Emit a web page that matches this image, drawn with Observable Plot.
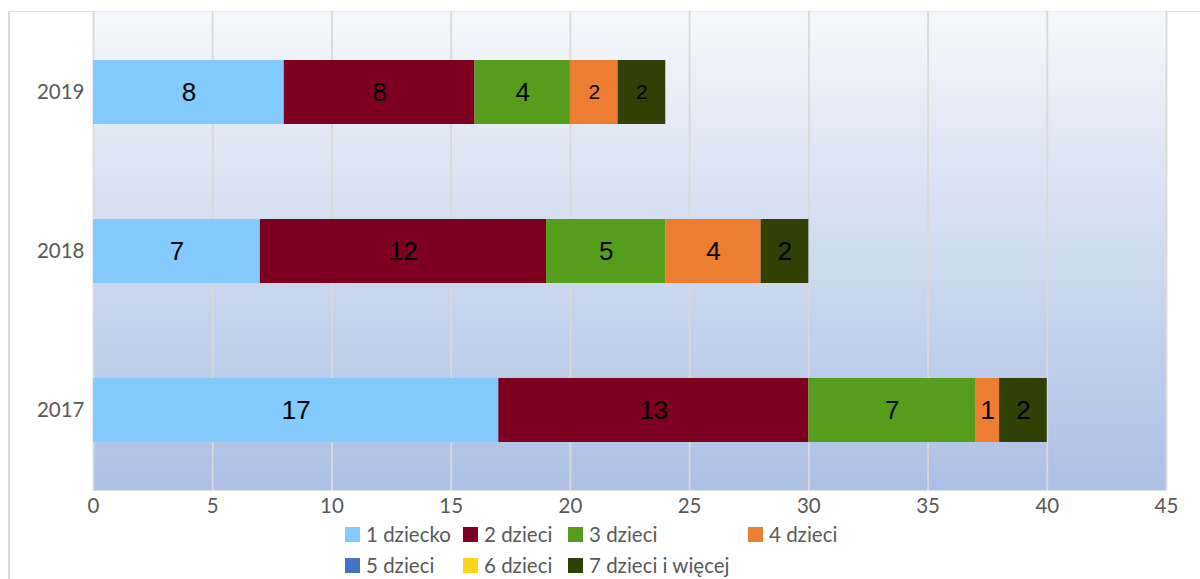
<!DOCTYPE html>
<html>
<head>
<meta charset="utf-8">
<script src="https://cdn.jsdelivr.net/npm/d3@7"></script>
<script src="https://cdn.jsdelivr.net/npm/@observablehq/plot@0.6"></script>
<style>
  body { margin: 0; background: #fff; }
  #wrap { position: relative; width: 1200px; height: 579px; overflow: hidden; font-family: Lato, "Noto Sans", sans-serif; }
  #border { position: absolute; left: 8px; top: 11px; width: 1300px; height: 700px; border-left: 2px solid #d9d9d9; border-top: 1.5px solid #e0e0e0; box-sizing: border-box; }
  #chart { position: absolute; left: 0; top: 0; }
  .lg { position: absolute; display: flex; align-items: center; font-size: 20.5px; color: #595959; white-space: nowrap; }
  .sw { width: 15px; height: 15px; margin-right: 6px; display: inline-block; }
</style>
</head>
<body>
<div id="wrap">
  <div id="border"></div>
  <div id="chart"></div>
  <div id="legend"></div>
</div>
<script>
const years = ["2019", "2018", "2017"];
const categories = ["1 dziecko", "2 dzieci", "3 dzieci", "4 dzieci", "5 dzieci", "6 dzieci", "7 dzieci i więcej"];
const colors = ["#83CAFF", "#7E0021", "#579D1C", "#ED7D31", "#4472C4", "#FFD320", "#314004"];
const values2019 = [8, 8, 4, 2, 0, 0, 2];
const values2018 = [7, 12, 5, 4, 0, 0, 2];
const values2017 = [17, 13, 7, 1, 0, 0, 2];
const xTicks = [0, 5, 10, 15, 20, 25, 30, 35, 40, 45];

const series = {"2019": values2019, "2018": values2018, "2017": values2017};
const data = [];
for (const y of years) {
  categories.forEach((c, i) => data.push({year: y, category: c, value: series[y][i]}));
}
const labeled = data.filter(d => d.value > 0);

const plot = Plot.plot({
  width: 1200,
  height: 520,
  marginLeft: 93,
  marginRight: 34,
  marginTop: 11,
  marginBottom: 30,
  style: {fontFamily: "Lato, 'Noto Sans', sans-serif", fontSize: "20.5px", color: "#595959", background: "transparent", overflow: "visible"},
  x: {domain: [0, 45], ticks: xTicks, tickSize: 0, tickPadding: 8, label: null},
  y: {domain: years, paddingInner: 0.6, paddingOuter: 0.3, tickSize: 0, tickPadding: 9, label: null},
  color: {domain: categories, range: colors},
  marks: [
    Plot.frame({fill: "url(#plotbg)", stroke: null}),
    Plot.gridX(xTicks, {stroke: "#d9d9d9", strokeOpacity: 1, strokeWidth: 1.8}),
    Plot.barX(data, Plot.stackX({x: "value", y: "year", fill: "category", order: categories, inset: 0})),
    Plot.text(labeled, Plot.stackX({x: "value", y: "year", z: "category", order: categories, text: d => String(d.value),
      fill: "#000", fontFamily: "'Liberation Sans', Arial, sans-serif",
      fontSize: d => (d.year === "2019" && d.value === 2) ? 21 : 26}))
  ]
});

const svg = d3.select(plot);
const defs = svg.insert("defs", ":first-child");
const grad = defs.append("linearGradient").attr("id", "plotbg").attr("x1", 0).attr("y1", 0).attr("x2", 0).attr("y2", 1);
grad.append("stop").attr("offset", "0%").attr("stop-color", "#f5f7fc");
grad.append("stop").attr("offset", "50%").attr("stop-color", "#cfdbef");
grad.append("stop").attr("offset", "100%").attr("stop-color", "#abc0e4");

document.getElementById("chart").appendChild(plot);

// legend
const legendPos = [[345, 534], [463, 534], [568, 534], [748, 534], [345, 565], [463, 565], [568, 565]];
const legend = document.getElementById("legend");
categories.forEach((c, i) => {
  const el = document.createElement("div");
  el.className = "lg";
  el.style.left = legendPos[i][0] + "px";
  el.style.top = (legendPos[i][1] - 13) + "px";
  el.style.height = "26px";
  el.innerHTML = `<span class="sw" style="background:${colors[i]}"></span><span>${c}</span>`;
  legend.appendChild(el);
});
</script>
</body>
</html>
